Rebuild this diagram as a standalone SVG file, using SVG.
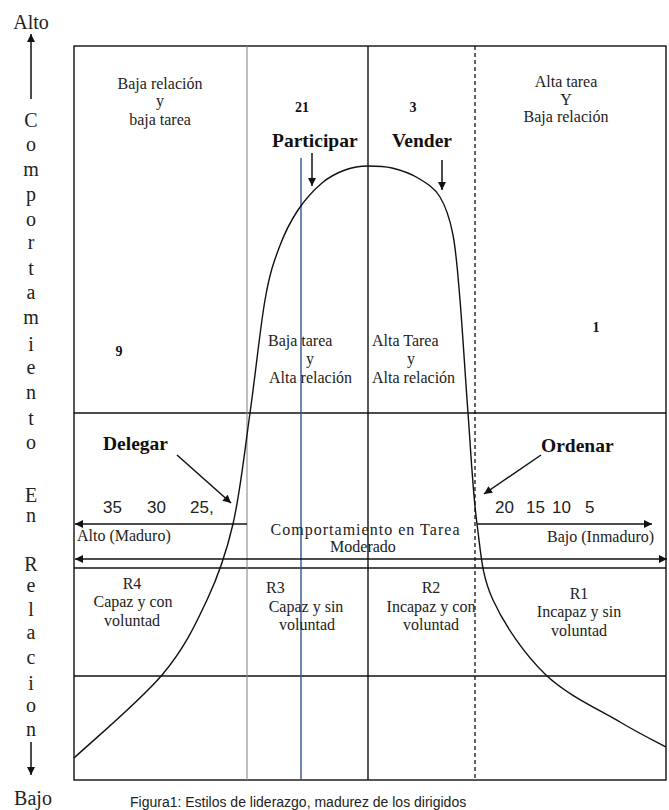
<svg xmlns="http://www.w3.org/2000/svg" width="669" height="810" viewBox="0 0 669 810">
<style>
.s{font-family:"Liberation Serif","Times New Roman",serif;font-size:16px;fill:#222}
.b{font-family:"Liberation Serif","Times New Roman",serif;font-size:19.5px;font-weight:bold;fill:#111}
.n{font-family:"Liberation Serif","Times New Roman",serif;font-size:14px;font-weight:bold;fill:#111}
.a{font-family:"Liberation Sans",Arial,sans-serif;font-size:17px;fill:#222}
.ax{font-family:"Liberation Serif","Times New Roman",serif;font-size:20px;fill:#222;text-anchor:middle}
.m{text-anchor:middle}
.ln{stroke:#111;stroke-width:1.4;fill:none}
.ar{stroke:#111;stroke-width:1.5;fill:none}
</style>
<defs>
<marker id="ah" viewBox="0 0 10 10" refX="10" refY="5" markerWidth="9" markerHeight="8" markerUnits="userSpaceOnUse" orient="auto-start-reverse"><path d="M0,0 L10,5 L0,10 z" fill="#111"/></marker>
</defs>
<rect width="669" height="810" fill="#fff"/>

<g id="frame">
<rect x="74" y="46" width="592" height="734" class="ln" stroke-width="1.6"/>
<line x1="74" y1="413" x2="666" y2="413" class="ln"/>
<line x1="74" y1="568" x2="666" y2="568" class="ln"/>
<line x1="74" y1="676" x2="666" y2="676" class="ln"/>
<line x1="247" y1="46" x2="247" y2="780" stroke="#8a8a8a" stroke-width="1.1"/>
<line x1="368" y1="46" x2="368" y2="780" class="ln"/>
<line x1="475" y1="46" x2="475" y2="780" stroke="#111" stroke-width="1.3" stroke-dasharray="4,3"/>
<line x1="301" y1="158" x2="301" y2="780" stroke="#2f5597" stroke-width="1.4"/>
</g>

<g id="curve">
<path class="ln" stroke-width="1.2" d="M74,758 C88.7,744.2 139.8,701.3 162,675 C184.2,648.7 195.2,625.2 207,600 C218.8,574.8 225.8,555.2 233,524 C240.2,492.8 244.7,450.3 250,413 C255.3,375.7 260.2,327.5 265,300 C269.8,272.5 273.5,263 279,248 C284.5,233 290.8,220.8 298,210 C305.2,199.2 314.2,189.7 322,183 C329.8,176.3 337.3,172.8 345,170 C352.7,167.2 360.2,166 368,166 C375.8,166 383.7,166 392,168 C400.3,170 410,173.2 418,178 C426,182.8 434.2,187.5 440,197 C445.8,206.5 449.7,217.8 453,235 C456.3,252.2 457.5,270.3 460,300 C462.5,329.7 465.2,375.7 468,413 C470.8,450.3 472.8,492.8 477,524 C481.2,555.2 481.5,574.8 493,600 C504.5,625.2 524.8,654.7 546,675 C567.2,695.3 600,710 620,722 C640,734 658.3,742.8 666,747"/>
</g>

<g id="axis">
<text class="ax" x="31" y="29">Alto</text>
<text class="ax" x="33" y="805">Bajo</text>
<text class="ax" x="31" y="127">C</text>
<text class="ax" x="31" y="151">o</text>
<text class="ax" x="31" y="176">m</text>
<text class="ax" x="31" y="201">p</text>
<text class="ax" x="31" y="226">o</text>
<text class="ax" x="31" y="249">r</text>
<text class="ax" x="31" y="275">t</text>
<text class="ax" x="31" y="299">a</text>
<text class="ax" x="31" y="324">m</text>
<text class="ax" x="31" y="351">i</text>
<text class="ax" x="31" y="374">e</text>
<text class="ax" x="31" y="399">n</text>
<text class="ax" x="31" y="425">t</text>
<text class="ax" x="31" y="449">o</text>
<text class="ax" x="31" y="502">E</text>
<text class="ax" x="31" y="522">n</text>
<text class="ax" x="31" y="571">R</text>
<text class="ax" x="31" y="592">e</text>
<text class="ax" x="31" y="616">l</text>
<text class="ax" x="31" y="639">a</text>
<text class="ax" x="31" y="664">c</text>
<text class="ax" x="31" y="690">i</text>
<text class="ax" x="31" y="712">o</text>
<text class="ax" x="31" y="736">n</text>
</g>

<g id="connectors">
<line class="ar" x1="31" y1="99" x2="31" y2="34" marker-end="url(#ah)"/>
<line class="ar" x1="31" y1="742" x2="31" y2="775" marker-end="url(#ah)"/>
<line class="ar" x1="312" y1="153" x2="312" y2="186" marker-end="url(#ah)"/>
<line class="ar" x1="442" y1="160" x2="442" y2="190" marker-end="url(#ah)"/>
<line class="ar" x1="177" y1="455" x2="231" y2="503" stroke-width="1.8" marker-end="url(#ah)"/>
<line class="ar" x1="541" y1="455" x2="484" y2="494" stroke-width="1.8" marker-end="url(#ah)"/>
<line class="ar" x1="247" y1="524" x2="75" y2="524" stroke-width="1.3" marker-end="url(#ah)"/>
<line class="ar" x1="477" y1="524" x2="652" y2="524" stroke-width="1.3" marker-end="url(#ah)"/>
<line class="ar" x1="75" y1="559" x2="667" y2="559" stroke-width="1.3" marker-start="url(#ah)" marker-end="url(#ah)"/>
</g>

<g id="q-baja-relacion-baja-tarea">
<text class="s m" x="160" y="89">Baja relación</text>
<text class="s m" x="160" y="106">y</text>
<text class="s m" x="160" y="125">baja tarea</text>
<text class="n m" x="119" y="356">9</text>
</g>

<g id="q-alta-tarea-baja-relacion">
<text class="s m" x="566" y="87">Alta tarea</text>
<text class="s m" x="566" y="105">Y</text>
<text class="s m" x="566" y="122">Baja relación</text>
<text class="n m" x="596" y="332">1</text>
</g>

<g id="participar">
<text class="n m" x="302" y="112">21</text>
<text class="b" x="272" y="147">Participar</text>
<text class="s" x="268" y="346">Baja tarea</text>
<text class="s m" x="310" y="364">y</text>
<text class="s" x="269" y="383">Alta relación</text>
</g>

<g id="vender">
<text class="n m" x="413" y="112">3</text>
<text class="b" x="392" y="147">Vender</text>
<text class="s" x="372" y="346">Alta Tarea</text>
<text class="s m" x="411" y="364">y</text>
<text class="s" x="372" y="383">Alta relación</text>
</g>

<g id="delegar">
<text class="b" x="103" y="450">Delegar</text>
<text class="a" x="103" y="513">35</text>
<text class="a" x="147" y="513">30</text>
<text class="a" x="190" y="513">25,</text>
</g>

<g id="ordenar">
<text class="b" x="541" y="452">Ordenar</text>
<text class="a" x="495" y="513">20</text>
<text class="a" x="526" y="513">15</text>
<text class="a" x="552" y="513">10</text>
<text class="a" x="585" y="513">5</text>
</g>

<g id="eje-tarea">
<text class="s" x="77" y="541">Alto (Maduro)</text>
<text class="s m" x="365" y="535" font-size="17" textLength="189">Comportamiento en Tarea</text>
<text class="s m" x="363" y="552">Moderado</text>
<text class="s" x="547" y="542">Bajo (Inmaduro)</text>
</g>

<g id="r4">
<text class="s m" x="132" y="589">R4</text>
<text class="s m" x="133" y="607">Capaz y con</text>
<text class="s m" x="132" y="626">voluntad</text>
</g>
<g id="r3">
<text class="s" x="266" y="593">R3</text>
<text class="s m" x="306" y="612">Capaz y sin</text>
<text class="s m" x="307" y="630">voluntad</text>
</g>
<g id="r2">
<text class="s m" x="431" y="593">R2</text>
<text class="s m" x="431" y="612">Incapaz y con</text>
<text class="s m" x="431" y="630">voluntad</text>
</g>
<g id="r1">
<text class="s m" x="579" y="599">R1</text>
<text class="s m" x="579" y="617">Incapaz y sin</text>
<text class="s m" x="579" y="636">voluntad</text>
</g>

<g id="caption">
<text x="130" y="807" font-family="Liberation Sans, Arial, sans-serif" font-size="14" fill="#222">Figura1: Estilos de liderazgo, madurez de los dirigidos</text>
</g>
</svg>
